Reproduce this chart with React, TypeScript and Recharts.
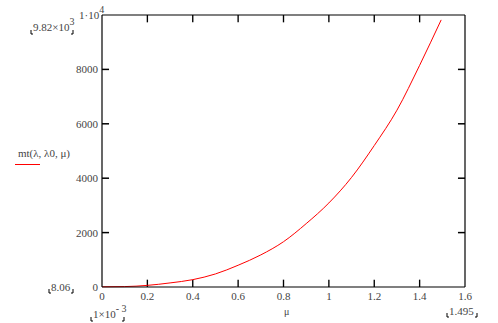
import React from 'react';
import { LineChart, Line, XAxis, YAxis, ReferenceLine, ReferenceArea } from 'recharts';

// mu values and the curve mt(λ, λ0, μ)
const MU = [0.001, 0.1, 0.2, 0.3, 0.4, 0.5, 0.6, 0.7, 0.8, 0.9, 1.0, 1.1, 1.2, 1.3, 1.4, 1.495];
const MT = [8.06, 15, 60, 150, 270, 480, 800, 1180, 1665, 2330, 3090, 4030, 5200, 6500, 8150, 9820];

const X_TICKS = [0, 0.2, 0.4, 0.6, 0.8, 1, 1.2, 1.4, 1.6];
const Y_TICKS = [0, 2000, 4000, 6000, 8000, 10000];
const X_MAX = 1.6;
const Y_MAX = 10000;

const W = 498;
const H = 323;

const data = MU.map((mu, i) => ({ mu, mt: MT[i] }));

const FONT = '"Liberation Serif", "DejaVu Serif", serif';
const LABEL = '#444';
// inward tick length / half width in data units (about 7px long, 1.4px wide)
const TICK_Y = 270;
const TICK_X = 0.031;
const HALF_W = 0.003;

const bottomTick = (p: any) => (
  <text x={p.x} y={p.y + 13} textAnchor="middle" fill={LABEL} fontSize={11} fontFamily={FONT}>
    {String(p.payload.value)}
  </text>
);
const leftTick = (p: any) =>
  p.payload.value === Y_MAX ? <g /> : (
    <text x={p.x - 4} y={p.y + 4} textAnchor="end" fill={LABEL} fontSize={11} fontFamily={FONT}>
      {String(p.payload.value)}
    </text>
  );

// little corner brackets Mathcad draws around the range limits
const Corners: React.FC<{ x1: number; x2: number; y: number }> = ({ x1, x2, y }) => (
  <g stroke="#000" strokeWidth={1} fill="none">
    <path d={`M${x1} ${y - 4} V${y} H${x1 + 2}`} />
    <path d={`M${x2} ${y - 4} V${y} H${x2 - 2}`} />
  </g>
);

const AXIS_LINE = { stroke: '#000', strokeWidth: 1.2 };
const hTick = (key: string, segment: { x: number; y: number }[]) => (
  <ReferenceLine
    key={key}
    xAxisId="b"
    yAxisId="l"
    segment={segment}
    stroke="#000"
    strokeWidth={1.5}
    ifOverflow="visible"
  />
);
const vTick = (key: string, x: number, y1: number, y2: number) => (
  <ReferenceArea
    key={key}
    xAxisId="b"
    yAxisId="l"
    x1={x - HALF_W}
    x2={x + HALF_W}
    y1={y1}
    y2={y2}
    fill="#000"
    fillOpacity={1}
    stroke="none"
    ifOverflow="visible"
  />
);

export default function App() {
  const inner = X_TICKS.filter((v) => v > 0 && v < X_MAX);
  const innerY = Y_TICKS.filter((v) => v > 0 && v < Y_MAX);
  return (
    <div style={{ position: 'absolute', left: 0, top: 0, width: W, height: H, background: '#fff', fontFamily: FONT }}>
      <LineChart width={W} height={H} data={data} margin={{ top: 14, right: 32, bottom: 0, left: 0 }}>
        <XAxis
          xAxisId="b"
          dataKey="mu"
          type="number"
          domain={[0, X_MAX]}
          ticks={X_TICKS}
          interval={0}
          height={36}
          tickSize={0}
          tickMargin={0}
          tickLine={false}
          axisLine={AXIS_LINE}
          tick={bottomTick}
        />
        <XAxis
          xAxisId="t"
          orientation="top"
          dataKey="mu"
          type="number"
          domain={[0, X_MAX]}
          height={1}
          tickLine={false}
          tick={false}
          axisLine={AXIS_LINE}
        />
        <YAxis
          yAxisId="l"
          type="number"
          domain={[0, Y_MAX]}
          ticks={Y_TICKS}
          interval={0}
          width={102}
          tickSize={0}
          tickMargin={0}
          tickLine={false}
          axisLine={AXIS_LINE}
          tick={leftTick}
        />
        <YAxis
          yAxisId="r"
          orientation="right"
          type="number"
          domain={[0, Y_MAX]}
          width={1}
          tickLine={false}
          tick={false}
          axisLine={AXIS_LINE}
        />
        {inner.map((v) => vTick(`xb${v}`, v, 0, TICK_Y))}
        {inner.map((v) => vTick(`xt${v}`, v, Y_MAX - TICK_Y, Y_MAX))}
        {innerY.map((v) => hTick(`yl${v}`, [{ x: 0, y: v }, { x: TICK_X, y: v }]))}
        {innerY.map((v) => hTick(`yr${v}`, [{ x: X_MAX - TICK_X, y: v }, { x: X_MAX, y: v }]))}
        <Line
          xAxisId="b"
          yAxisId="l"
          dataKey="mt"
          type="monotone"
          stroke="#ff0000"
          strokeWidth={1}
          dot={false}
          isAnimationActive={false}
        />
      </LineChart>
      <svg
        width={W}
        height={H}
        style={{ position: 'absolute', left: 0, top: 0, pointerEvents: 'none' }}
        fontFamily={FONT}
        fontSize={11}
        fill={LABEL}
      >
        <text x={79} y={19}>
          1·10<tspan dy={-6} fontSize={10}>4</tspan>
        </text>
        <text x={33} y={31}>
          9.82×10<tspan dy={-6} fontSize={10}>3</tspan>
        </text>
        <Corners x1={31} x2={73} y={34} />
        <text x={51} y={291}>8.06</text>
        <Corners x1={49} x2={73} y={293} />
        <text x={93} y={318}>
          1×10<tspan dy={-6} fontSize={10}>- 3</tspan>
        </text>
        <Corners x1={91} x2={124} y={321} />
        <text x={449} y={315}>1.495</text>
        <Corners x1={447} x2={477} y={317} />
        <text x={284} y={315} fontSize={10}>μ</text>
        <text x={18} y={157}>mt(λ, λ0, μ)</text>
        <line x1={15} x2={40} y1={164.5} y2={164.5} stroke="#ff0000" strokeWidth={1} />
      </svg>
    </div>
  );
}
